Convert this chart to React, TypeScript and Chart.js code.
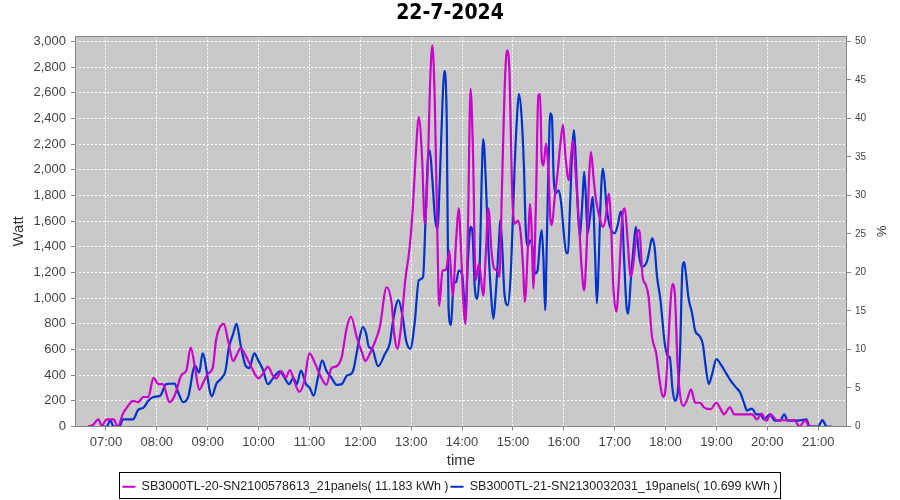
import React, { useEffect, useRef } from 'react';
import { Chart, registerables } from 'chart.js';

Chart.register(...registerables);

const chartTitle = '22-7-2024';
const xTitle = 'time';
const yTitle = 'Watt';
const y2Title = '%';
const hourLabels = ['07:00', '08:00', '09:00', '10:00', '11:00', '12:00', '13:00', '14:00', '15:00', '16:00', '17:00', '18:00', '19:00', '20:00', '21:00'];
const wattTicks = [0, 200, 400, 600, 800, 1000, 1200, 1400, 1600, 1800, 2000, 2200, 2400, 2600, 2800, 3000];
const percentTicks = [0, 5, 10, 15, 20, 25, 30, 35, 40, 45, 50];

const magentaLabel = 'SB3000TL-20-SN2100578613_21panels( 11.183 kWh )';
const blueLabel = 'SB3000TL-21-SN2130032031_19panels( 10.699 kWh )';

const magentaTimes = ['06:39', '06:45', '06:51', '06:55', '07:01', '07:09', '07:14', '07:20', '07:26', '07:32', '07:38', '07:44', '07:50', '07:56', '08:02', '08:07', '08:15', '08:21', '08:29', '08:35', '08:40', '08:45', '08:50', '08:56', '09:00', '09:06', '09:10', '09:14', '09:19', '09:24', '09:30', '09:33', '09:39', '09:45', '09:51', '10:00', '10:05', '10:11', '10:17', '10:21', '10:27', '10:32', '10:37', '10:42', '10:48', '10:54', '11:00', '11:07', '11:14', '11:20', '11:26', '11:32', '11:38', '11:44', '11:49', '11:56', '12:02', '12:06', '12:11', '12:17', '12:23', '12:31', '12:37', '12:40', '12:44', '12:48', '12:53', '12:58', '13:02', '13:05', '13:09', '13:13', '13:16', '13:20', '13:22', '13:25', '13:28', '13:31', '13:33', '13:37', '13:41', '13:45', '13:49', '13:53', '13:56', '13:59', '14:01', '14:04', '14:07', '14:10', '14:13', '14:16', '14:20', '14:25', '14:28', '14:31', '14:35', '14:38', '14:42', '14:44', '14:47', '14:50', '14:53', '14:56', '14:59', '15:02', '15:06', '15:09', '15:12', '15:14', '15:18', '15:20', '15:22', '15:24', '15:27', '15:30', '15:32', '15:34', '15:36', '15:39', '15:42', '15:44', '15:46', '15:49', '15:53', '15:56', '15:59', '16:02', '16:06', '16:09', '16:11', '16:14', '16:18', '16:21', '16:24', '16:27', '16:30', '16:32', '16:35', '16:38', '16:42', '16:46', '16:49', '16:53', '16:56', '16:58', '17:02', '17:05', '17:09', '17:12', '17:15', '17:19', '17:22', '17:26', '17:29', '17:33', '17:37', '17:40', '17:44', '17:49', '17:53', '17:57', '18:00', '18:03', '18:06', '18:08', '18:11', '18:14', '18:17', '18:21', '18:25', '18:30', '18:35', '18:41', '18:45', '18:53', '19:00', '19:05', '19:09', '19:16', '19:21', '19:28', '19:42', '19:48', '19:53', '19:59', '20:04', '20:11', '20:19', '20:32', '20:38', '20:45', '20:49', '21:00'];
const magentaWatts = [0, 15, 55, 8, 55, 55, 0, 100, 160, 200, 190, 230, 230, 380, 330, 330, 190, 240, 400, 440, 615, 460, 285, 360, 410, 460, 680, 770, 800, 670, 510, 540, 610, 550, 470, 375, 410, 465, 395, 375, 430, 380, 440, 355, 270, 355, 570, 485, 380, 325, 455, 470, 540, 770, 855, 690, 575, 510, 565, 655, 775, 1085, 955, 720, 605, 775, 1140, 1385, 1710, 2070, 2410, 2070, 1580, 2100, 2620, 2970, 2490, 1450, 940, 1215, 1220, 1370, 1020, 1450, 1700, 1345, 1035, 800, 1555, 2630, 2100, 1140, 1270, 1020, 1345, 1700, 1345, 1230, 1215, 1165, 1840, 2590, 2930, 2750, 1840, 1580, 1605, 1515, 1240, 970, 1450, 1735, 1555, 1075, 1710, 2580, 2590, 2075, 2035, 2205, 1970, 1635, 1570, 1765, 2000, 2205, 2350, 2100, 1920, 2140, 2230, 1970, 1580, 1240, 1060, 1400, 1970, 2140, 1945, 1765, 1635, 1555, 1610, 1815, 1530, 1140, 895, 1140, 1635, 1700, 1475, 1165, 1270, 1500, 1530, 1165, 1100, 1010, 700, 570, 360, 230, 295, 620, 980, 1110, 1030, 510, 250, 160, 200, 290, 185, 185, 150, 135, 185, 135, 95, 150, 95, 95, 95, 55, 100, 45, 95, 50, 50, 50, 0, 50, 0, 0];

const blueTimes = ['06:55', '07:01', '07:05', '07:09', '07:16', '07:20', '07:32', '07:38', '07:44', '07:50', '07:56', '08:04', '08:11', '08:21', '08:25', '08:31', '08:37', '08:45', '08:50', '08:54', '09:00', '09:02', '09:05', '09:10', '09:16', '09:21', '09:25', '09:30', '09:34', '09:39', '09:45', '09:49', '09:55', '10:00', '10:05', '10:11', '10:17', '10:25', '10:31', '10:36', '10:41', '10:45', '10:50', '10:56', '11:00', '11:05', '11:10', '11:15', '11:20', '11:26', '11:32', '11:38', '11:44', '11:50', '11:52', '11:58', '12:03', '12:07', '12:10', '12:14', '12:21', '12:29', '12:35', '12:38', '12:45', '12:50', '12:54', '12:59', '13:04', '13:09', '13:14', '13:17', '13:20', '13:22', '13:25', '13:28', '13:31', '13:34', '13:37', '13:39', '13:42', '13:44', '13:47', '13:50', '13:53', '13:56', '14:00', '14:04', '14:07', '14:10', '14:12', '14:15', '14:18', '14:21', '14:23', '14:25', '14:28', '14:31', '14:35', '14:37', '14:40', '14:44', '14:45', '14:47', '14:50', '14:54', '14:57', '14:59', '15:02', '15:05', '15:07', '15:10', '15:13', '15:15', '15:18', '15:20', '15:23', '15:26', '15:29', '15:32', '15:34', '15:36', '15:38', '15:40', '15:42', '15:44', '15:46', '15:48', '15:50', '15:54', '15:57', '16:00', '16:03', '16:05', '16:07', '16:10', '16:12', '16:14', '16:17', '16:19', '16:22', '16:24', '16:26', '16:28', '16:31', '16:34', '16:37', '16:39', '16:41', '16:43', '16:46', '16:48', '16:50', '16:53', '16:56', '17:00', '17:04', '17:07', '17:09', '17:11', '17:14', '17:16', '17:19', '17:23', '17:25', '17:29', '17:32', '17:38', '17:41', '17:44', '17:47', '17:50', '17:54', '17:59', '18:03', '18:05', '18:08', '18:11', '18:14', '18:17', '18:20', '18:22', '18:24', '18:27', '18:31', '18:35', '18:40', '18:44', '18:47', '18:51', '18:55', '19:00', '19:05', '19:11', '19:17', '19:23', '19:28', '19:33', '19:36', '19:42', '19:47', '19:52', '19:56', '20:03', '20:09', '20:15', '20:20', '20:24', '20:32', '20:40', '20:46', '20:50', '21:00', '21:05', '21:10', '21:16'];
const blueWatts = [0, 0, 50, 0, 0, 55, 55, 130, 145, 200, 230, 240, 330, 335, 270, 190, 230, 475, 420, 570, 380, 290, 235, 330, 375, 435, 615, 720, 800, 630, 470, 455, 570, 510, 445, 330, 375, 430, 375, 330, 380, 330, 435, 330, 305, 240, 380, 515, 435, 380, 325, 330, 395, 415, 445, 655, 775, 720, 620, 605, 470, 565, 655, 800, 985, 850, 670, 605, 800, 1140, 1165, 1630, 2110, 2150, 1920, 1630, 1540, 1970, 2540, 2770, 2360, 930, 790, 1115, 1125, 1215, 1190, 890, 1295, 1555, 1530, 1085, 995, 1295, 1890, 2240, 1920, 1400, 955, 840, 1060, 1500, 1605, 1450, 1035, 945, 1140, 1450, 2020, 2435, 2590, 2435, 2020, 1555, 1410, 1450, 1400, 1190, 1215, 1450, 1530, 1300, 905, 1450, 2050, 2440, 2410, 1945, 1815, 1840, 1735, 1505, 1350, 1350, 1660, 2165, 2310, 2100, 1635, 1480, 1765, 1985, 1790, 1505, 1635, 1790, 1320, 960, 1245, 1685, 2010, 1920, 1740, 1595, 1530, 1505, 1580, 1675, 1620, 1320, 930, 880, 1140, 1450, 1555, 1320, 1245, 1285, 1375, 1465, 1400, 1165, 985, 650, 545, 540, 305, 200, 250, 565, 1240, 1280, 1190, 1005, 890, 745, 705, 640, 485, 330, 410, 525, 485, 420, 355, 305, 265, 175, 125, 140, 95, 95, 55, 95, 45, 45, 95, 45, 45, 50, 55, 0, 0, 50, 0, 0];

const FONT = "'Liberation Sans', Arial, sans-serif";
const TITLE_FONT = "'DejaVu Sans Condensed', 'Liberation Sans', Arial, sans-serif";

const toMin = (t: string) => {
  const [h, m] = t.split(':').map(Number);
  return h * 60 + m;
};
const fmtTime = (v: number) => {
  const h = Math.floor(v / 60);
  const m = Math.round(v - h * 60);
  return String(h).padStart(2, '0') + ':' + String(m).padStart(2, '0');
};

const X_MIN = 383.5;
const X_MAX = 1294;
const Y_MAX = 3041;

const plotFrame = {
  id: 'plotFrame',
  beforeDraw(chart: any) {
    const { ctx, chartArea: a } = chart;
    ctx.save();
    ctx.fillStyle = '#c9c9c9';
    ctx.fillRect(a.left, a.top, a.right - a.left, a.bottom - a.top);
    ctx.restore();
  },
  afterDraw(chart: any) {
    const { ctx, chartArea: a } = chart;
    ctx.save();
    ctx.strokeStyle = '#858585';
    ctx.lineWidth = 1;
    ctx.strokeRect(Math.round(a.left) + 0.5, Math.round(a.top) + 0.5, Math.round(a.right - a.left) - 1, Math.round(a.bottom - a.top));
    const lg = chart.legend;
    const hb = lg && lg.legendHitBoxes;
    if (hb && hb.length) {
      const left = Math.min(...hb.map((h: any) => h.left)) - 3;
      const right = Math.max(...hb.map((h: any) => h.left + h.width)) + 3;
      const cy = hb[0].top + hb[0].height / 2;
      ctx.strokeStyle = '#000';
      ctx.strokeRect(Math.round(left) + 0.5, Math.round(cy - 15) + 0.5, Math.round(right - left), 26);
    }
    ctx.restore();
  },
};

export default function App() {
  const ref = useRef<HTMLCanvasElement>(null);
  useEffect(() => {
    if (!ref.current) return;
    const chart = new Chart(ref.current, {
      type: 'line',
      data: {
        datasets: [
          {
            label: magentaLabel,
            data: magentaTimes.map((t, i) => ({ x: toMin(t), y: magentaWatts[i] })),
            borderColor: '#cc00cc',
            backgroundColor: '#cc00cc',
            borderWidth: 2.2,
            pointRadius: 0,
            cubicInterpolationMode: 'monotone',
            yAxisID: 'y',
          },
          {
            label: blueLabel,
            data: blueTimes.map((t, i) => ({ x: toMin(t), y: blueWatts[i] })),
            borderColor: '#0033cc',
            backgroundColor: '#0033cc',
            borderWidth: 2.2,
            pointRadius: 0,
            cubicInterpolationMode: 'monotone',
            yAxisID: 'y',
          },
        ],
      },
      options: {
        responsive: false,
        animation: false,
        devicePixelRatio: 1,
        layout: { padding: { top: 0, left: 0, right: 0, bottom: -3 } },
        plugins: {
          tooltip: { enabled: false },
          title: {
            display: true,
            text: chartTitle,
            color: '#000',
            font: { family: TITLE_FONT, size: 21, weight: 'bold' },
            padding: { top: 1, bottom: 10 },
          },
          legend: {
            display: true,
            position: 'bottom',
            labels: {
              usePointStyle: true,
              pointStyle: 'line',
              pointStyleWidth: 13,
              boxHeight: 12,
              padding: 2,
              color: '#222',
              font: { family: FONT, size: 12.5 },
            },
          },
        },
        scales: {
          x: {
            type: 'linear',
            min: X_MIN,
            max: X_MAX,
            afterBuildTicks: (s: any) => {
              s.ticks = hourLabels.map((l) => ({ value: toMin(l) }));
            },
            afterFit: (s: any) => {
              s.height = 52;
            },
            ticks: {
              autoSkip: false,
              maxRotation: 0,
              padding: 4,
              color: '#444',
              font: { family: FONT, size: 13 },
              callback: (v: any) => fmtTime(Number(v)),
            },
            grid: {
              color: '#ffffff',
              lineWidth: 1,
              tickLength: 4,
              tickColor: '#858585',
              tickBorderDash: [],
            },
            border: { display: false, dash: [2, 2] },
            title: {
              display: true,
              text: xTitle,
              color: '#333',
              font: { family: FONT, size: 15 },
              padding: { top: 0, bottom: 9 },
            },
          },
          y: {
            type: 'linear',
            position: 'left',
            min: 0,
            max: Y_MAX,
            afterBuildTicks: (s: any) => {
              s.ticks = wattTicks.map((v) => ({ value: v }));
            },
            afterFit: (s: any) => {
              s.width = 75;
            },
            ticks: {
              padding: 5,
              color: '#444',
              font: { family: FONT, size: 13 },
              callback: (v: any) => Number(v).toLocaleString('en-US'),
            },
            grid: {
              color: '#ffffff',
              lineWidth: 1,
              tickLength: 4,
              tickColor: '#858585',
              tickBorderDash: [],
            },
            border: { display: false, dash: [2, 2] },
            title: {
              display: true,
              text: yTitle,
              color: '#333',
              font: { family: FONT, size: 15 },
              padding: { top: 10, bottom: 0 },
            },
          },
          y1: {
            type: 'linear',
            position: 'right',
            min: 0,
            max: Y_MAX / 60,
            afterBuildTicks: (s: any) => {
              s.ticks = percentTicks.map((v) => ({ value: v }));
            },
            afterFit: (s: any) => {
              s.width = 53;
            },
            ticks: {
              padding: 4,
              color: '#444',
              font: { family: FONT, size: 10 },
              callback: (v: any) => String(v),
            },
            grid: {
              drawOnChartArea: false,
              tickLength: 4,
              tickColor: '#858585',
              tickBorderDash: [],
            },
            border: { display: false },
            title: {
              display: true,
              text: y2Title,
              color: '#333',
              font: { family: FONT, size: 13 },
              padding: { top: 12, bottom: 0 },
            },
          },
        },
      },
      plugins: [plotFrame],
    } as any);
    return () => chart.destroy();
  }, []);

  return (
    <div style={{ position: 'fixed', left: 0, top: 0, width: 900, height: 500, background: '#fff' }}>
      <canvas ref={ref} width={900} height={500} style={{ display: 'block', width: 900, height: 500 }} />
    </div>
  );
}
